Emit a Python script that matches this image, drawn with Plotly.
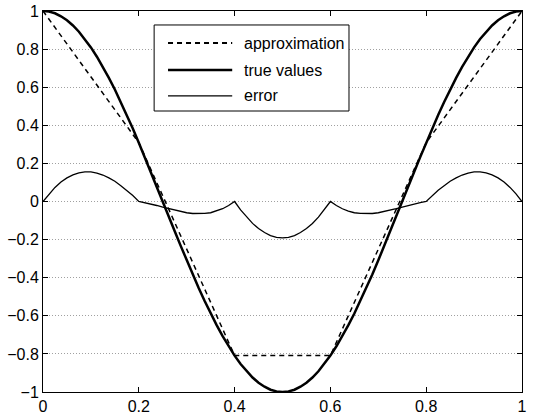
import plotly.graph_objects as go

# sample positions (step 0.0125)
x_vals = [0.0, 0.0125, 0.025, 0.0375, 0.05, 0.0625, 0.075, 0.0875, 0.1, 0.1125,
          0.125, 0.1375, 0.15, 0.1625, 0.175, 0.1875, 0.2, 0.2125, 0.225, 0.2375,
          0.25, 0.2625, 0.275, 0.2875, 0.3, 0.3125, 0.325, 0.3375, 0.35, 0.3625,
          0.375, 0.3875, 0.4, 0.4125, 0.425, 0.4375, 0.45, 0.4625, 0.475, 0.4875,
          0.5, 0.5125, 0.525, 0.5375, 0.55, 0.5625, 0.575, 0.5875, 0.6, 0.6125,
          0.625, 0.6375, 0.65, 0.6625, 0.675, 0.6875, 0.7, 0.7125, 0.725, 0.7375,
          0.75, 0.7625, 0.775, 0.7875, 0.8, 0.8125, 0.825, 0.8375, 0.85, 0.8625,
          0.875, 0.8875, 0.9, 0.9125, 0.925, 0.9375, 0.95, 0.9625, 0.975, 0.9875, 1.0]

true_values = [1.0, 0.997, 0.988, 0.972, 0.951, 0.924, 0.891, 0.853, 0.809, 0.760,
               0.707, 0.649, 0.588, 0.522, 0.454, 0.383, 0.309, 0.233, 0.156, 0.078,
               0.0, -0.078, -0.156, -0.233, -0.309, -0.383, -0.454, -0.522, -0.588, -0.649,
               -0.707, -0.760, -0.809, -0.853, -0.891, -0.924, -0.951, -0.972, -0.988, -0.997,
               -1.0, -0.997, -0.988, -0.972, -0.951, -0.924, -0.891, -0.853, -0.809, -0.760,
               -0.707, -0.649, -0.588, -0.522, -0.454, -0.383, -0.309, -0.233, -0.156, -0.078,
               0.0, 0.078, 0.156, 0.233, 0.309, 0.383, 0.454, 0.522, 0.588, 0.649,
               0.707, 0.760, 0.809, 0.853, 0.891, 0.924, 0.951, 0.972, 0.988, 0.997, 1.0]

approx_x = [0.0, 0.2, 0.4, 0.6, 0.8, 1.0]
approx_values = [1.0, 0.309, -0.809, -0.809, 0.309, 1.0]

error_values = [0.0, 0.040, 0.074, 0.102, 0.124, 0.140, 0.150, 0.155, 0.155, 0.149,
                0.139, 0.124, 0.106, 0.083, 0.059, 0.031, 0.0, -0.006, -0.013, -0.021,
                -0.030, -0.038, -0.046, -0.053, -0.059, -0.063, -0.064, -0.062, -0.059, -0.050,
                -0.038, -0.021, 0.0, -0.044, -0.082, -0.115, -0.142, -0.163, -0.179, -0.188,
                -0.191, -0.188, -0.179, -0.163, -0.142, -0.115, -0.082, -0.044, 0.0, -0.021,
                -0.038, -0.050, -0.059, -0.062, -0.064, -0.063, -0.059, -0.053, -0.046, -0.038,
                -0.030, -0.021, -0.013, -0.006, 0.0, 0.031, 0.059, 0.083, 0.106, 0.124,
                0.139, 0.149, 0.155, 0.155, 0.150, 0.140, 0.124, 0.102, 0.074, 0.040, 0.0]

series_names = ["approximation", "true values", "error"]
x_ticks = [0, 0.2, 0.4, 0.6, 0.8, 1]
y_ticks = [-1, -0.8, -0.6, -0.4, -0.2, 0, 0.2, 0.4, 0.6, 0.8, 1]

styles = [dict(color="black", width=1.5, dash="5px,4px"),
          dict(color="black", width=2.5),
          dict(color="black", width=1.3)]

fig = go.Figure()
fig.add_trace(go.Scatter(x=approx_x, y=approx_values, mode="lines", name=series_names[0],
                         line=styles[0]))
fig.add_trace(go.Scatter(x=x_vals, y=true_values, mode="lines", name=series_names[1],
                         line=styles[1]))
fig.add_trace(go.Scatter(x=x_vals, y=error_values, mode="lines", name=series_names[2],
                         line=styles[2]))

font = dict(family="Liberation Sans, Arial, sans-serif", size=16, color="black")

# legend drawn in paper coordinates (MATLAB-style long line samples)
box = dict(x0=0.232, x1=0.6388, y0=0.7375, y1=0.9633)
row_y = [0.916, 0.845, 0.777]
line_x0, line_x1, text_x = 0.261, 0.395, 0.415
legend_styles = [dict(color="black", width=2, dash="5px,4px"),
                 dict(color="black", width=2.5),
                 dict(color="black", width=1.3)]

shapes = [dict(type="rect", xref="paper", yref="paper", **box,
               line=dict(color="black", width=1), fillcolor="white", layer="above")]
annotations = []
for name, st, yy in zip(series_names, legend_styles, row_y):
    shapes.append(dict(type="line", xref="paper", yref="paper", x0=line_x0, x1=line_x1,
                       y0=yy, y1=yy, line=st, layer="above"))
    annotations.append(dict(xref="paper", yref="paper", x=text_x, y=yy, text=name,
                            showarrow=False, xanchor="left", yanchor="middle",
                            font=font))

fig.update_layout(
    width=542, height=416,
    margin=dict(l=43, r=20, t=11, b=24),
    paper_bgcolor="white", plot_bgcolor="white",
    font=font,
    showlegend=False,
    shapes=shapes,
    annotations=annotations,
)
fig.update_xaxes(range=[0, 1], tickvals=x_ticks, ticktext=[f"{v:g}" for v in x_ticks],
                 showgrid=False, zeroline=False, showline=True, linecolor="black",
                 linewidth=1, mirror="ticks", ticks="inside", ticklen=5,
                 tickcolor="black", tickfont=font, automargin=False)
fig.update_yaxes(range=[-1, 1], tickvals=y_ticks,
                 ticktext=[f"{v:g}".replace("-", "\u2212") for v in y_ticks],
                 showgrid=True, gridcolor="#a0a0a0", griddash="1px,2px", gridwidth=1,
                 zeroline=False, showline=True, linecolor="black",
                 linewidth=1, mirror="ticks", ticks="inside", ticklen=5,
                 tickcolor="black", tickfont=font, automargin=False)

fig.write_html("out.html")
